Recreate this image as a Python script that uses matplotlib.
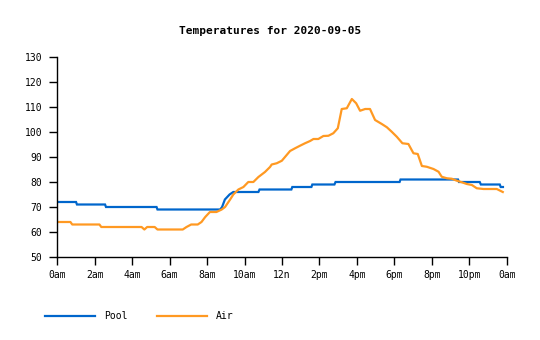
import matplotlib
matplotlib.use("Agg")
import matplotlib.pyplot as plt

title = "Temperatures for 2020-09-05"
tick_hours = [0, 2, 4, 6, 8, 10, 12, 14, 16, 18, 20, 22, 24]
tick_labels = ["0am", "2am", "4am", "6am", "8am", "10am", "12n", "2pm", "4pm", "6pm", "8pm", "10pm", "0am"]
y_ticks = [50, 60, 70, 80, 90, 100, 110, 120, 130]

pool_hours = [0, 1.0, 1.05, 2.55, 2.6, 5.3, 5.35, 8.7, 8.8, 8.95, 9.2, 9.4,
              10.74, 10.8, 12.5, 12.55, 13.57, 13.62, 14.8, 14.86, 18.28, 18.33,
              21.4, 21.45, 22.56, 22.62, 23.63, 23.68, 23.8]
pool_temps = [72, 72, 71, 71, 70, 70, 69, 69, 70, 73, 75, 76,
              76, 77, 77, 78, 78, 79, 79, 80, 80, 81,
              81, 80, 80, 79, 79, 78, 78]

air_hours = [0, 0.7, 0.8, 2.25, 2.35, 4.5, 4.65, 4.8, 5.2, 5.35, 6.7, 6.9, 7.15, 7.5,
             7.7, 7.9, 8.15, 8.5, 8.78, 8.96, 9.23, 9.4, 9.67, 9.94, 10.2, 10.47, 10.74,
             11.09, 11.36, 11.45, 11.72, 11.99, 12.16, 12.43, 12.7, 12.96, 13.23, 13.5,
             13.68, 13.94, 14.21, 14.48, 14.74, 14.98, 15.07, 15.19, 15.46, 15.73, 15.96,
             16.17, 16.44, 16.7, 16.97, 17.33, 17.6, 17.86, 18.13, 18.43, 18.75, 19.02,
             19.25, 19.47, 19.73, 20.09, 20.36, 20.53, 20.8, 21.07, 21.34, 21.6, 21.87,
             22.14, 22.4, 22.76, 23.47, 23.79]
air_temps = [64, 64, 63, 63, 62, 62, 61, 62, 62, 61, 61, 62, 63, 63,
             64, 66, 68, 68, 69, 70, 73, 75, 77, 78, 80, 80, 82,
             84, 86, 87, 87.5, 88.5, 90, 92.4, 93.5, 94.5, 95.5, 96.4,
             97.2, 97.2, 98.4, 98.5, 99.5, 101.5, 104.8, 109.2, 109.5, 113.2, 111.5,
             108.5, 109.2, 109.2, 104.8, 103.2, 101.9, 100.1, 98.1, 95.5, 95.2, 91.5,
             91.2, 86.4, 86.1, 85.2, 84.1, 82.1, 81.5, 81.3, 80.5, 79.9, 79.2,
             78.8, 77.5, 77.2, 77.2, 76]

plt.rcParams['font.family'] = ['DejaVu Sans Mono']

fig = plt.figure(figsize=(5.4, 3.4), dpi=100)
ax = fig.add_axes([57.3 / 540, 83 / 340, 449.4 / 540, 200 / 340])

ax.plot(pool_hours, pool_temps, color="#0066cc", lw=1.6, label="Pool", solid_joinstyle="miter")
ax.plot(air_hours, air_temps, color="#ff9922", lw=1.6, label="Air")

ax.set_xlim(0, 24)
ax.set_ylim(50, 130)
ax.set_xticks(tick_hours)
ax.set_xticklabels(tick_labels)
ax.set_yticks(y_ticks)
for s in ["top", "right"]:
    ax.spines[s].set_visible(False)
for s in ["left", "bottom"]:
    ax.spines[s].set_linewidth(1.0)
ax.tick_params(axis="both", length=6, width=1.0, labelsize=7, color="black")
ax.tick_params(axis="x", pad=3)
ax.tick_params(axis="y", pad=5)

fig.text(0.5, 1 - 31 / 340, title, ha="center", va="center", fontsize=8, fontweight="bold")

fig.legend(loc="center left", bbox_to_anchor=(36 / 540, 1 - 316 / 340), ncol=2, frameon=False,
           fontsize=7, handlelength=5.2, handletextpad=0.9, columnspacing=3.0)

fig.savefig("out.png", dpi=100)
